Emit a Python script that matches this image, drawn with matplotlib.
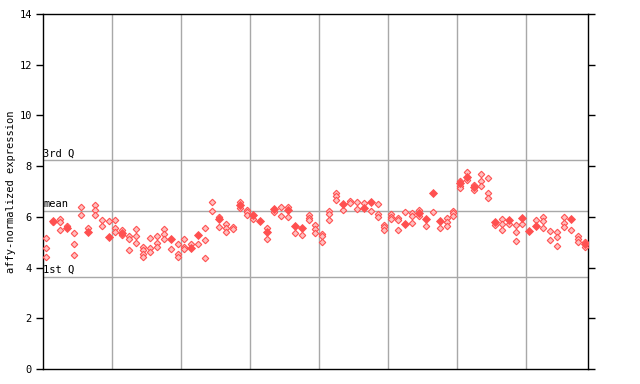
import matplotlib
matplotlib.use("Agg")
import matplotlib.pyplot as plt

# per-sample values (one column per sample)
hollow_vals = [
    [5.17, 4.77, 4.42], [5.80], [5.93, 5.79, 5.48], [5.65], [5.35, 4.93, 4.50],
    [6.38, 6.06], [5.57], [6.47, 6.27, 6.06], [5.86, 5.65], [5.82],
    [5.88, 5.55, 5.42], [5.47, 5.27], [5.25, 5.11, 4.69], [5.52, 5.25, 4.96], [4.81, 4.68, 4.55, 4.42],
    [5.18, 4.76, 4.60], [5.25, 4.96, 4.82], [5.52, 5.31, 5.13], [4.73], [4.92, 4.52, 4.42],
    [5.13, 4.82, 4.73], [4.92], [4.92], [5.56, 5.07, 4.38], [6.57, 6.22],
    [6.01, 5.60], [5.72, 5.55, 5.42], [5.60, 5.51], [6.60, 6.36], [6.27, 6.18, 6.07],
    [5.90], [], [5.55, 5.11], [6.20], [6.39, 6.02],
    [6.39, 5.98], [5.38], [5.27], [6.07, 5.97, 5.88], [5.68, 5.51, 5.38],
    [5.34, 5.25, 5.00], [6.24, 6.12, 5.86], [6.94, 6.83, 6.65], [6.26], [6.63, 6.53],
    [6.57, 6.30], [6.53], [6.22], [6.49, 6.10, 5.99], [5.68, 5.59, 5.48],
    [6.11, 6.01, 5.90], [5.95, 5.86, 5.47], [6.18], [6.14, 6.05, 5.75], [6.27, 6.05],
    [5.63], [6.18], [5.56], [5.94, 5.80, 5.65], [6.24, 6.14, 6.03],
    [7.41, 7.23, 7.13], [7.78, 7.47], [7.26, 7.06], [7.68, 7.43, 7.20], [7.52, 6.94, 6.73],
    [5.68], [5.92, 5.71, 5.48], [5.71], [5.67, 5.39, 5.04], [5.73],
    [], [5.88], [5.99, 5.84, 5.55], [5.43, 5.07], [5.39, 5.22, 4.85],
    [5.99, 5.76, 5.59], [5.47], [5.25, 5.13, 5.00], [5.02, 4.80],
]
solid_vals = [
    None, 5.84, None, 5.55, None, None, 5.42, None, None, 5.22,
    None, 5.37, None, None, None, None, None, None, 5.11, None,
    None, 4.76, 5.30, None, None, 5.93, None, None, 6.47, None,
    6.09, 5.84, 5.42, 6.30, None, 6.28, 5.63, 5.55, None, None,
    None, None, None, 6.51, None, None, 6.36, 6.60, None, None,
    None, None, 5.72, None, 6.14, 5.92, 6.95, 5.85, None, None,
    7.32, 7.57, 7.16, None, None, 5.80, None, 5.88, None, 5.97,
    5.43, 5.65, None, None, None, None, 5.93, None, 4.93,
]
q3, mean, q1 = 8.23, 6.22, 3.63
group_edges = [9.5, 19.5, 29.5, 39.5, 49.5, 59.5, 69.5]
y_ticks = [0, 2, 4, 6, 8, 10, 12, 14]

RED = "#ff5050"
GRID = "#a8a8a8"
MONO = "DejaVu Sans Mono"

fig = plt.figure(figsize=(6.4, 3.84), dpi=100)
ax = fig.add_axes([43 / 640, 15 / 384, 545 / 640, 355 / 384])

n = len(hollow_vals)
ax.set_xlim(-0.5, n - 0.5)
ax.set_ylim(0, 14)

for x in group_edges:
    ax.axvline(x, color=GRID, lw=1, zorder=1)
for y in (q3, mean, q1):
    ax.axhline(y, color=GRID, lw=1, zorder=1)

hx = [i for i, vals in enumerate(hollow_vals) for _ in vals]
hy = [v for vals in hollow_vals for v in vals]
ax.plot(hx, hy, ls="none", marker="D", ms=3.3, mfc="#ffc0c0", mec=RED, mew=0.8, zorder=3)

sx = [i for i, v in enumerate(solid_vals) if v is not None]
sy = [v for v in solid_vals if v is not None]
ax.plot(sx, sy, ls="none", marker="D", ms=3.6, mfc=RED, mec=RED, mew=0.6, zorder=4)

for y, lab in ((q3, "3rd Q"), (mean, "mean"), (q1, "1st Q")):
    ax.text(-0.45, y + 0.08, lab, fontsize=7.5, family=MONO, ha="left", va="bottom", zorder=5)

ax.set_yticks(y_ticks)
ax.set_yticklabels([str(t) for t in y_ticks], family=MONO, fontsize=7.5)
ax.set_xticks([])
ax.tick_params(axis="y", direction="out", length=5, width=1, right=True, pad=3)
for s in ax.spines.values():
    s.set_linewidth(1)
fig.text(11 / 640, 0.5, "affy-normalized expression", family=MONO, fontsize=7.5,
         rotation=90, ha="center", va="center")

fig.savefig("out.png", dpi=100)
